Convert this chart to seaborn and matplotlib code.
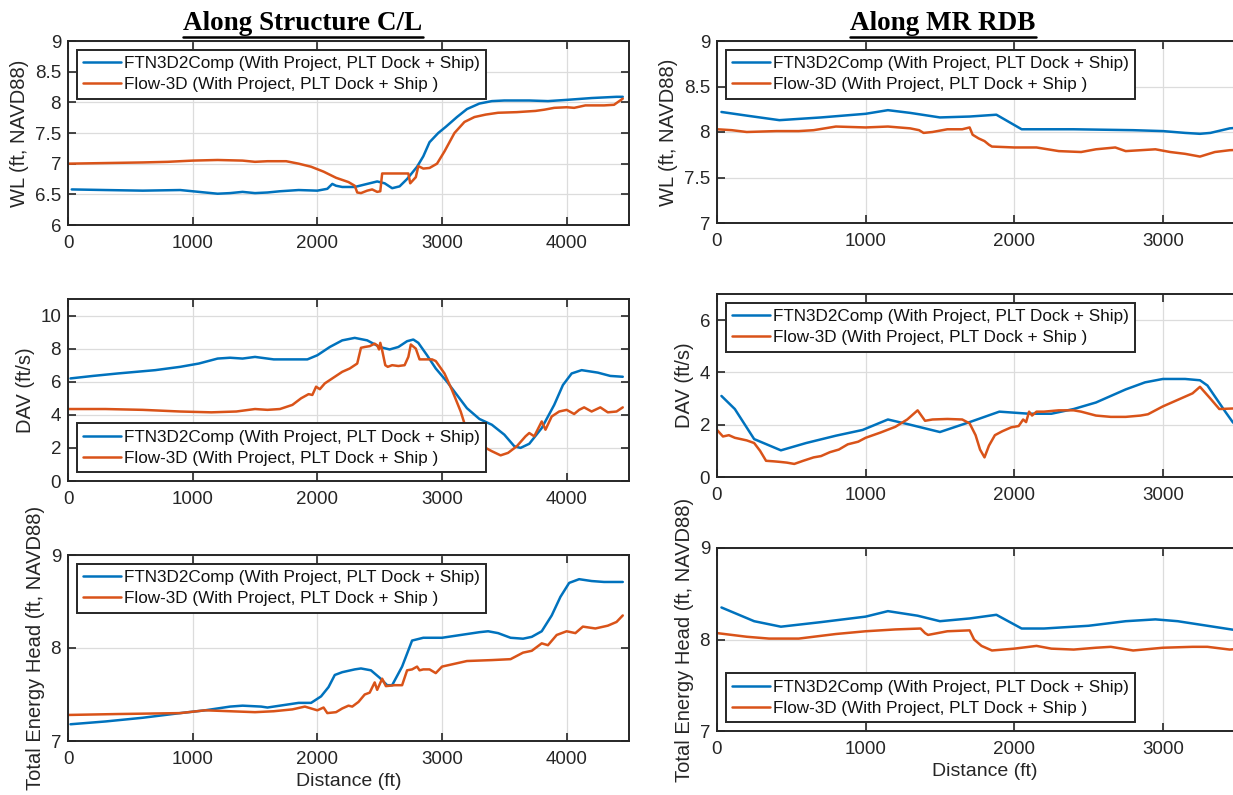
import matplotlib
matplotlib.use("Agg")
import matplotlib.pyplot as plt
from matplotlib.lines import Line2D
from matplotlib.ticker import FuncFormatter
import pandas as pd
import seaborn as sns

# Along Structure C/L - water level
cl_wl_ftn_x = [30, 300, 600, 900, 1050, 1200, 1300, 1400, 1500, 1600, 1700, 1850, 2000, 2080, 2120, 2150, 2200,
               2300, 2400, 2480, 2540, 2600, 2660, 2720, 2800, 2850, 2900, 2970, 3030, 3120, 3200, 3300, 3400,
               3500, 3700, 3850, 4000, 4200, 4400, 4450]
cl_wl_ftn_y = [6.58, 6.57, 6.56, 6.57, 6.54, 6.51, 6.52, 6.54, 6.52, 6.53, 6.55, 6.57, 6.56, 6.59, 6.67, 6.64, 6.62,
               6.62, 6.67, 6.71, 6.68, 6.60, 6.63, 6.75, 6.95, 7.12, 7.35, 7.5, 7.6, 7.76, 7.89, 7.98, 8.02,
               8.03, 8.03, 8.02, 8.04, 8.07, 8.09, 8.09]
cl_wl_f3d_x = [0, 300, 600, 800, 1000, 1200, 1400, 1500, 1600, 1750, 1850, 1950, 2050, 2150, 2250, 2300, 2320,
               2350, 2400, 2440, 2480, 2505, 2520, 2600, 2700, 2730, 2745, 2790, 2810, 2850, 2900, 2960, 3020,
               3100, 3180, 3260, 3350, 3450, 3600, 3750, 3820, 3900, 4000, 4060, 4150, 4300, 4380, 4450]
cl_wl_f3d_y = [7.0, 7.01, 7.02, 7.03, 7.05, 7.06, 7.05, 7.03, 7.04, 7.04, 7.0, 6.95, 6.87, 6.77, 6.70, 6.64, 6.53,
               6.52, 6.56, 6.58, 6.54, 6.55, 6.84, 6.84, 6.84, 6.84, 6.68, 6.78, 6.96, 6.92, 6.93, 7.0, 7.2,
               7.5, 7.68, 7.76, 7.8, 7.83, 7.84, 7.86, 7.88, 7.91, 7.92, 7.91, 7.95, 7.95, 7.96, 8.06]

# Along Structure C/L - depth averaged velocity
cl_dav_ftn_x = [20, 200, 400, 700, 900, 1050, 1200, 1300, 1400, 1500, 1650, 1800, 1920, 2000, 2100, 2200, 2300,
                2400, 2500, 2580, 2650, 2720, 2770, 2810, 2880, 2950, 3040, 3120, 3200, 3300, 3400, 3500, 3580,
                3630, 3700, 3800, 3900, 3970, 4040, 4120, 4250, 4350, 4450]
cl_dav_ftn_y = [6.2, 6.35, 6.5, 6.7, 6.9, 7.1, 7.4, 7.45, 7.4, 7.5, 7.35, 7.35, 7.35, 7.6, 8.1, 8.5, 8.65,
                8.5, 8.1, 7.95, 8.1, 8.45, 8.55, 8.35, 7.6, 6.8, 6.0, 5.2, 4.4, 3.75, 3.4, 2.8, 2.1,
                2.0, 2.25, 3.2, 4.6, 5.8, 6.5, 6.7, 6.55, 6.35, 6.3]
cl_dav_f3d_x = [0, 300, 600, 900, 1150, 1350, 1500, 1600, 1700, 1800, 1870, 1930, 1960, 1990, 2020, 2060, 2120,
                2200, 2260, 2320, 2350, 2380, 2420, 2460, 2480, 2495, 2505, 2520, 2545, 2565, 2600, 2650, 2700,
                2730, 2750, 2790, 2820, 2870, 2920, 2950, 3020, 3080, 3150, 3200, 3300, 3400, 3470, 3530, 3600,
                3670, 3700, 3740, 3800, 3830, 3880, 3940, 4000, 4060, 4100, 4140, 4200, 4270, 4330, 4400, 4450]
cl_dav_f3d_y = [4.35, 4.35, 4.3, 4.2, 4.15, 4.2, 4.35, 4.3, 4.35, 4.6, 5.0, 5.25, 5.2, 5.7, 5.55, 5.9, 6.2,
                6.6, 6.8, 7.1, 8.05, 8.1, 8.15, 8.3, 8.2, 7.95, 8.35, 7.9, 7.0, 6.9, 7.0, 6.95, 7.0,
                7.5, 8.25, 8.0, 7.35, 7.35, 7.35, 7.25, 6.5, 5.5, 4.2, 3.0, 2.2, 1.8, 1.55, 1.7, 2.1,
                2.7, 2.9, 2.7, 3.6, 3.1, 3.9, 4.2, 4.3, 4.05, 4.3, 4.45, 4.2, 4.45, 4.15, 4.2, 4.45]

# Along Structure C/L - total energy head
cl_teh_ftn_x = [20, 300, 600, 900, 1100, 1300, 1400, 1550, 1600, 1700, 1850, 1950, 2030, 2090, 2140, 2200, 2300,
                2350, 2430, 2500, 2560, 2600, 2680, 2760, 2850, 3000, 3150, 3300, 3370, 3450, 3550, 3650, 3720,
                3800, 3880, 3950, 4020, 4100, 4200, 4300, 4450]
cl_teh_ftn_y = [7.18, 7.21, 7.25, 7.3, 7.33, 7.37, 7.38, 7.37, 7.36, 7.38, 7.41, 7.41, 7.48, 7.58, 7.71, 7.74, 7.77,
                7.78, 7.76, 7.68, 7.6, 7.6, 7.8, 8.08, 8.11, 8.11, 8.14, 8.17, 8.18, 8.16, 8.11, 8.1, 8.12,
                8.18, 8.35, 8.55, 8.7, 8.74, 8.72, 8.71, 8.71]
cl_teh_f3d_x = [0, 400, 900, 1100, 1300, 1500, 1650, 1800, 1900, 1950, 2000, 2050, 2080, 2150, 2200, 2250, 2280,
                2330, 2380, 2420, 2460, 2480, 2520, 2550, 2620, 2680, 2720, 2760, 2800, 2820, 2850, 2900, 2950,
                3000, 3100, 3200, 3400, 3550, 3650, 3720, 3800, 3850, 3920, 4000, 4070, 4130, 4230, 4330, 4400, 4450]
cl_teh_f3d_y = [7.28, 7.29, 7.3, 7.33, 7.32, 7.31, 7.32, 7.34, 7.37, 7.35, 7.33, 7.36, 7.3, 7.31, 7.35, 7.38, 7.37,
                7.42, 7.5, 7.52, 7.63, 7.55, 7.67, 7.59, 7.6, 7.6, 7.76, 7.77, 7.8, 7.76, 7.77, 7.77, 7.73,
                7.8, 7.83, 7.86, 7.87, 7.88, 7.95, 7.97, 8.05, 8.03, 8.14, 8.18, 8.16, 8.23, 8.21, 8.24, 8.28, 8.35]

# Along MR RDB - water level
rdb_wl_ftn_x = [30, 200, 420, 700, 1000, 1150, 1300, 1500, 1700, 1880, 2050, 2400, 2800, 3000, 3150, 3250, 3320,
                3450, 3600]
rdb_wl_ftn_y = [8.22, 8.18, 8.13, 8.16, 8.2, 8.24, 8.21, 8.16, 8.17, 8.19, 8.03, 8.03, 8.02, 8.01, 7.99, 7.98, 7.99,
                8.04, 8.06]
rdb_wl_f3d_x = [0, 100, 200, 400, 550, 650, 800, 1000, 1150, 1300, 1360, 1390, 1450, 1550, 1650, 1700, 1720, 1760,
                1800, 1830, 1850, 2000, 2150, 2300, 2450, 2550, 2680, 2750, 2850, 2950, 3050, 3150, 3250, 3350,
                3450, 3600]
rdb_wl_f3d_y = [8.03, 8.02, 8.0, 8.01, 8.01, 8.02, 8.06, 8.05, 8.06, 8.04, 8.02, 7.99, 8.0, 8.03, 8.03, 8.05, 7.97,
                7.93, 7.9, 7.86, 7.84, 7.83, 7.83, 7.79, 7.78, 7.81, 7.83, 7.79, 7.8, 7.81, 7.78, 7.76, 7.73,
                7.78, 7.8, 7.81]

# Along MR RDB - depth averaged velocity
rdb_dav_ftn_x = [30, 120, 250, 430, 600, 800, 980, 1150, 1300, 1500, 1700, 1900, 2100, 2250, 2400, 2550, 2750,
                 2880, 3000, 3150, 3250, 3300, 3360, 3420, 3470, 3600]
rdb_dav_ftn_y = [3.1, 2.6, 1.45, 1.02, 1.3, 1.58, 1.8, 2.2, 2.0, 1.72, 2.1, 2.5, 2.42, 2.42, 2.6, 2.85, 3.35,
                 3.62, 3.75, 3.75, 3.7, 3.5, 3.0, 2.5, 2.1, 1.4]
rdb_dav_f3d_x = [0, 40, 80, 120, 160, 200, 250, 290, 330, 380, 420, 470, 520, 580, 650, 700, 760, 820, 880, 950,
                 1000, 1100, 1200, 1280, 1350, 1400, 1450, 1550, 1650, 1700, 1740, 1770, 1800, 1830, 1870, 1920,
                 1980, 2030, 2060, 2080, 2100, 2120, 2150, 2200, 2300, 2400, 2450, 2550, 2650, 2750, 2850, 2900,
                 3000, 3100, 3200, 3250, 3320, 3380, 3470, 3600]
rdb_dav_f3d_y = [1.8, 1.55, 1.6, 1.5, 1.45, 1.4, 1.3, 1.0, 0.62, 0.6, 0.58, 0.55, 0.5, 0.62, 0.75, 0.8, 0.95, 1.05,
                 1.25, 1.35, 1.5, 1.7, 1.92, 2.2, 2.55, 2.15, 2.2, 2.22, 2.2, 2.05, 1.6, 1.05, 0.75, 1.2, 1.6,
                 1.75, 1.9, 1.95, 2.2, 2.1, 2.5, 2.35, 2.5, 2.5, 2.55, 2.55, 2.5, 2.35, 2.3, 2.3, 2.35, 2.4,
                 2.7, 2.95, 3.2, 3.45, 3.0, 2.6, 2.62, 2.62]

# Along MR RDB - total energy head
rdb_teh_ftn_x = [30, 250, 430, 700, 1000, 1150, 1350, 1500, 1700, 1880, 2050, 2200, 2500, 2750, 2950, 3100, 3300,
                 3500, 3600]
rdb_teh_ftn_y = [8.35, 8.2, 8.14, 8.19, 8.25, 8.31, 8.26, 8.2, 8.23, 8.27, 8.12, 8.12, 8.15, 8.2, 8.22, 8.2, 8.15,
                 8.1, 8.08]
rdb_teh_f3d_x = [0, 200, 350, 550, 800, 1000, 1200, 1370, 1400, 1420, 1550, 1700, 1730, 1780, 1850, 2000, 2150,
                 2250, 2400, 2550, 2650, 2800, 3000, 3200, 3300, 3450, 3600]
rdb_teh_f3d_y = [8.07, 8.03, 8.01, 8.01, 8.06, 8.09, 8.11, 8.12, 8.07, 8.05, 8.09, 8.1, 8.0, 7.93, 7.88, 7.9, 7.93,
                 7.9, 7.89, 7.91, 7.92, 7.88, 7.91, 7.92, 7.92, 7.89, 7.91]

lbl_ftn = "FTN3D2Comp (With Project, PLT Dock + Ship)"
lbl_f3d = "Flow-3D (With Project, PLT Dock + Ship )"
col_titles = ["Along Structure C/L", "Along MR RDB"]

BLUE = "#0072BD"
ORANGE = "#D95319"
DARK = "#262626"

sns.set_style("ticks")
plt.rcParams["font.family"] = ["Liberation Sans", "DejaVu Sans"]

W, H = 1233, 795
fig = plt.figure(figsize=(W / 100, H / 100), dpi=100)


def px_axes(x0, y0, x1, y1):
    # pixel box (top-left origin) -> figure axes
    return fig.add_axes([x0 / W, 1 - y1 / H, (x1 - x0) / W, (y1 - y0) / H])


def panel(ax, xf, yf, xo, yo, ylim, yticks, xlim, ylabel, legloc, xlabel=None):
    sns.lineplot(x=xf, y=yf, ax=ax, color=BLUE, lw=1.8, label=lbl_ftn, sort=False, estimator=None)
    sns.lineplot(x=xo, y=yo, ax=ax, color=ORANGE, lw=1.8, label=lbl_f3d, sort=False, estimator=None)
    ax.set_xticks([0, 1000, 2000, 3000, 4000])
    ax.set_yticks(yticks)
    ax.set_xlim(*xlim)
    ax.set_ylim(*ylim)
    ax.yaxis.set_major_formatter(FuncFormatter(lambda v, p: f"{v:g}"))
    ax.grid(True, color="#dcdcdc", lw=0.9)
    ax.set_axisbelow(True)
    for s in ax.spines.values():
        s.set_color(DARK)
        s.set_linewidth(1.4)
        s.set_visible(True)
    ax.tick_params(direction="in", length=6, width=1.2, colors=DARK, labelsize=13.5,
                   top=True, right=True)
    ax.tick_params(axis="y", pad=5)
    ax.tick_params(axis="x", pad=7)
    ax.set_ylabel(ylabel, fontsize=14.5, color=DARK, labelpad=4)
    ax.set_xlabel(xlabel if xlabel else "", fontsize=14, color=DARK, labelpad=4)
    leg = ax.legend(loc=legloc, fontsize=12.3, frameon=True, fancybox=False, framealpha=1,
                    borderpad=0.4, labelspacing=0.35, handlelength=2.2, handletextpad=0.15,
                    borderaxespad=0.5)
    leg.get_frame().set_edgecolor(DARK)
    leg.get_frame().set_linewidth(1.4)
    for t in leg.get_texts():
        t.set_color("#111111")


# left column
axL1 = px_axes(68, 41, 629, 225)
panel(axL1, cl_wl_ftn_x, cl_wl_ftn_y, cl_wl_f3d_x, cl_wl_f3d_y, (6, 9),
      [6, 6.5, 7, 7.5, 8, 8.5, 9], (0, 4500), "WL (ft, NAVD88)", "upper left")
axL2 = px_axes(68, 299, 629, 481)
panel(axL2, cl_dav_ftn_x, cl_dav_ftn_y, cl_dav_f3d_x, cl_dav_f3d_y, (0, 11),
      [0, 2, 4, 6, 8, 10], (0, 4500), "DAV (ft/s)", "lower left")
axL3 = px_axes(68, 555, 629, 741)
panel(axL3, cl_teh_ftn_x, cl_teh_ftn_y, cl_teh_f3d_x, cl_teh_f3d_y, (7, 9),
      [7, 8, 9], (0, 4500), "Total Energy Head (ft, NAVD88)", "upper left", "Distance (ft)")

# right column (runs past the page edge)
axR1 = px_axes(717, 41, 1252, 223)
panel(axR1, rdb_wl_ftn_x, rdb_wl_ftn_y, rdb_wl_f3d_x, rdb_wl_f3d_y, (7, 9),
      [7, 7.5, 8, 8.5, 9], (0, 3600), "WL (ft, NAVD88)", "upper left")
axR2 = px_axes(717, 294, 1252, 477)
panel(axR2, rdb_dav_ftn_x, rdb_dav_ftn_y, rdb_dav_f3d_x, rdb_dav_f3d_y, (0, 7),
      [0, 2, 4, 6], (0, 3600), "DAV (ft/s)", "upper left")
axR3 = px_axes(717, 548, 1252, 731)
panel(axR3, rdb_teh_ftn_x, rdb_teh_ftn_y, rdb_teh_f3d_x, rdb_teh_f3d_y, (7, 9),
      [7, 8, 9], (0, 3600), "Total Energy Head (ft, NAVD88)", "lower left", "Distance (ft)")

# underlined column headings
titles = []
for xc, txt in zip([303, 943], col_titles):
    titles.append(fig.text(xc / W, 1 - 30 / H, txt, ha="center", va="baseline", fontsize=19.5,
                           fontweight="bold", family=["Liberation Serif", "DejaVu Serif"], color="black"))
fig.canvas.draw()
rend = fig.canvas.get_renderer()
for t in titles:
    bb = t.get_window_extent(rend)
    yline = bb.y0 - 0.5
    fig.add_artist(Line2D([bb.x0 / W, bb.x1 / W], [yline / H, yline / H], color="black", lw=1.8,
                          transform=fig.transFigure))

fig.savefig("out.png", dpi=100)
